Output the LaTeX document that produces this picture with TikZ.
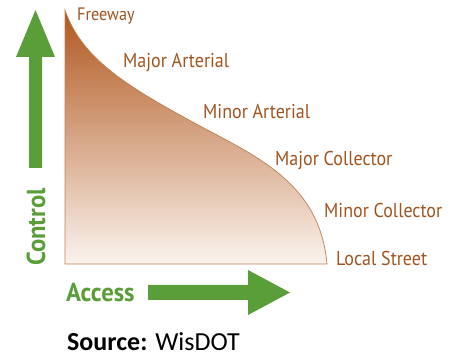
\documentclass[tikz,border=0pt]{standalone}
\usepackage{fontspec}
\setmainfont{PT Sans}
\newfontfamily\condfont[FakeStretch=0.9]{PT Sans}
\newfontfamily\axisfont[FakeStretch=0.95]{PT Sans}
\newfontfamily\srcfont{Carlito}
\begin{document}
\begin{tikzpicture}[x=1pt,y=-1pt,
  lbl/.style={anchor=west,inner sep=0pt,text=labelbrown,font=\condfont\fontsize{20}{20}\selectfont},
  axislbl/.style={inner sep=0pt,text=arrowgreen,font=\axisfont\bfseries\fontsize{26}{26}\selectfont},
  arr/.style={fill=arrowgreen,draw=none}]
\definecolor{labelbrown}{HTML}{A0541F}
\definecolor{arrowgreen}{HTML}{5A9E3A}
\definecolor{topbrown}{HTML}{B0571E}
\definecolor{botbrown}{HTML}{FBF3EE}
\definecolor{edgebrown}{HTML}{C08050}
\useasboundingbox (0,0) rectangle (453,358);
% curve region
\shade[top color=topbrown,bottom color=botbrown,draw=edgebrown,line width=0.7pt]
  (65,10) .. controls (82,60) and (130,88) .. (200,126)
  .. controls (260,158) and (320,185) .. (327,264)
  -- (65,264) -- cycle;
% labels
\node[lbl,font=\condfont\fontsize{18}{18}\selectfont] (fw) at (77,16.5) {Freeway};
\node[lbl] (maa) at (123,63) {Major Arterial};
\node[lbl] (mia) at (203,112) {Minor Arterial};
\node[lbl] (mac) at (275,161) {Major Collector};
\node[lbl] (mic) at (324,211) {Minor Collector};
\node[lbl] (ls) at (336,259) {Local Street};
% arrows
\fill[arr] (29,168) -- (29,57) -- (16,57) -- (35.5,10) -- (55,57) -- (42,57) -- (42,168) -- cycle;
\fill[arr] (148,285) -- (248,285) -- (248,270) -- (290,292.5) -- (248,315) -- (248,300) -- (148,300) -- cycle;
\node[axislbl,rotate=90] (ctl) at (36,227) {Control};
\node[axislbl,anchor=west] (acc) at (66,293) {Access};
\node[anchor=west,inner sep=0pt,font=\srcfont\fontsize{26}{26}\selectfont] (src) at (67,342) {\textbf{Source:} WisDOT};
\end{tikzpicture}
\end{document}
